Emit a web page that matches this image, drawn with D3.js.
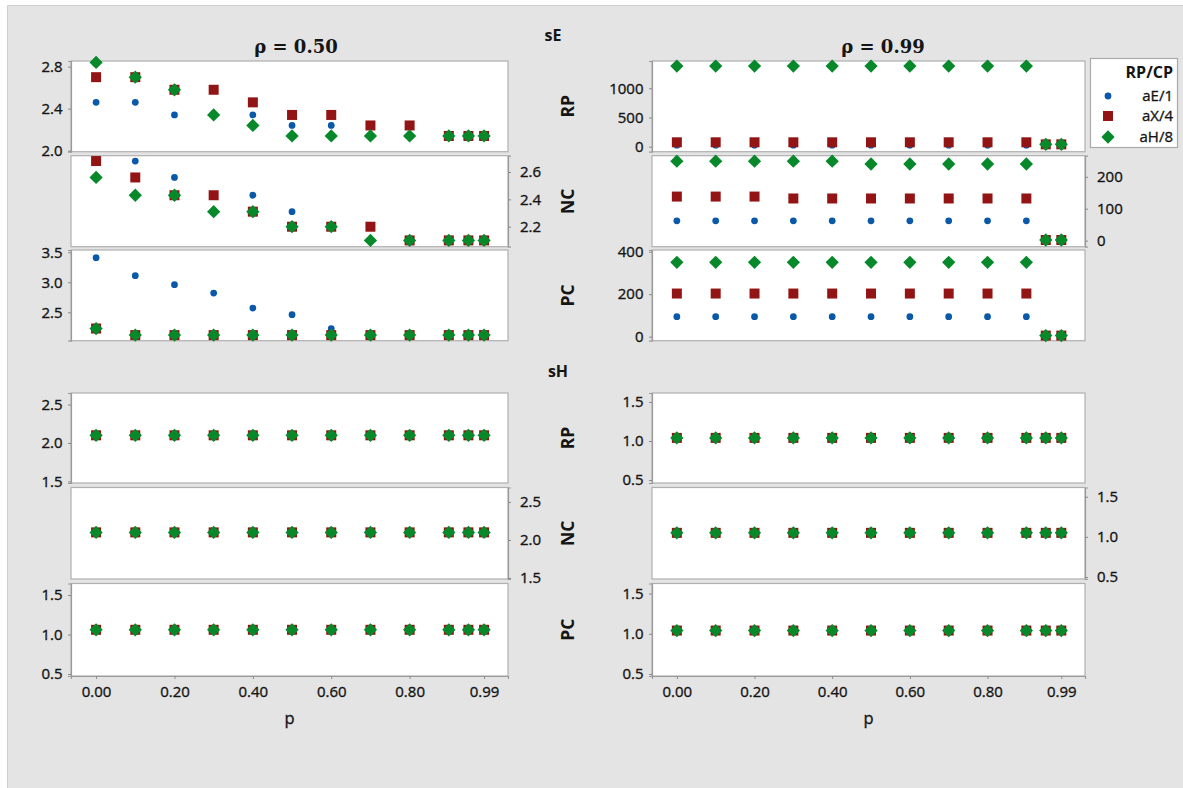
<!DOCTYPE html>
<html>
<head>
<meta charset="utf-8">
<script src="https://cdn.jsdelivr.net/npm/d3@7"></script>
<style>
  html, body { margin: 0; padding: 0; background: #ffffff; }
  svg { display: block; }
  text { font-family: "Open Sans", "Noto Sans", "DejaVu Sans", sans-serif; fill: #151515; }
  .thick { stroke: #151515; stroke-width: 0.35px; }
</style>
</head>
<body>
<svg id="chart" width="1183" height="788"></svg>
<script>
// ---- values ---------------------------------------------------------------
const P = [0, 0.1, 0.2, 0.3, 0.4, 0.5, 0.6, 0.7, 0.8, 0.9, 0.95, 0.99];
const xTickValues = [0, 0.2, 0.4, 0.6, 0.8, 0.99];
const seriesNames = ["aE/1", "aX/4", "aH/8"];
const rowNames = ["RP", "NC", "PC"];
const blockNames = ["sE", "sH"];
const rhoTitles = ["\u03C1 = 0.50", "\u03C1 = 0.99"];

// sE, rho = 0.50
const sE50_RP_aE = [2.46, 2.46, 2.34, 2.34, 2.34, 2.24, 2.24, 2.24, 2.14, 2.14, 2.14, 2.14];
const sE50_RP_aX = [2.70, 2.70, 2.58, 2.58, 2.46, 2.34, 2.34, 2.24, 2.24, 2.14, 2.14, 2.14];
const sE50_RP_aH = [2.84, 2.70, 2.58, 2.34, 2.24, 2.14, 2.14, 2.14, 2.14, 2.14, 2.14, 2.14];
const sE50_NC_aE = [2.68, 2.68, 2.56, 2.43, 2.43, 2.31, 2.20, 2.20, 2.10, 2.10, 2.10, 2.10];
const sE50_NC_aX = [2.68, 2.56, 2.43, 2.43, 2.31, 2.20, 2.20, 2.20, 2.10, 2.10, 2.10, 2.10];
const sE50_NC_aH = [2.56, 2.43, 2.43, 2.31, 2.31, 2.20, 2.20, 2.10, 2.10, 2.10, 2.10, 2.10];
const sE50_PC_aE = [3.41, 3.11, 2.96, 2.82, 2.57, 2.46, 2.23, 2.12, 2.12, 2.12, 2.12, 2.12];
const sE50_PC_aX = [2.23, 2.12, 2.12, 2.12, 2.12, 2.12, 2.12, 2.12, 2.12, 2.12, 2.12, 2.12];
const sE50_PC_aH = [2.23, 2.12, 2.12, 2.12, 2.12, 2.12, 2.12, 2.12, 2.12, 2.12, 2.12, 2.12];

// sE, rho = 0.99
const sE99_RP_aE = [25, 25, 25, 25, 25, 25, 25, 25, 25, 25, 38, 38];
const sE99_RP_aX = [75, 75, 75, 75, 75, 75, 75, 75, 75, 75, 40, 40];
const sE99_RP_aH = [1380, 1380, 1380, 1380, 1380, 1380, 1380, 1380, 1380, 1380, 40, 40];
const sE99_NC_aE = [62, 62, 62, 62, 62, 62, 62, 62, 62, 62, 2, 2];
const sE99_NC_aX = [138, 138, 138, 132, 132, 132, 132, 132, 132, 132, 2, 2];
const sE99_NC_aH = [249, 249, 249, 249, 249, 240, 240, 240, 240, 240, 2, 2];
const sE99_PC_aE = [94, 94, 94, 94, 94, 94, 94, 94, 94, 94, 5, 5];
const sE99_PC_aX = [203, 203, 203, 203, 203, 203, 203, 203, 203, 203, 5, 5];
const sE99_PC_aH = [350, 350, 350, 350, 350, 350, 350, 350, 350, 350, 5, 5];

// sH, rho = 0.50
const sH50_RP_aE = [2.10, 2.10, 2.10, 2.10, 2.10, 2.10, 2.10, 2.10, 2.10, 2.10, 2.10, 2.10];
const sH50_RP_aX = [2.10, 2.10, 2.10, 2.10, 2.10, 2.10, 2.10, 2.10, 2.10, 2.10, 2.10, 2.10];
const sH50_RP_aH = [2.10, 2.10, 2.10, 2.10, 2.10, 2.10, 2.10, 2.10, 2.10, 2.10, 2.10, 2.10];
const sH50_NC_aE = [2.10, 2.10, 2.10, 2.10, 2.10, 2.10, 2.10, 2.10, 2.10, 2.10, 2.10, 2.10];
const sH50_NC_aX = [2.10, 2.10, 2.10, 2.10, 2.10, 2.10, 2.10, 2.10, 2.10, 2.10, 2.10, 2.10];
const sH50_NC_aH = [2.10, 2.10, 2.10, 2.10, 2.10, 2.10, 2.10, 2.10, 2.10, 2.10, 2.10, 2.10];
const sH50_PC_aE = [1.06, 1.06, 1.06, 1.06, 1.06, 1.06, 1.06, 1.06, 1.06, 1.06, 1.06, 1.06];
const sH50_PC_aX = [1.06, 1.06, 1.06, 1.06, 1.06, 1.06, 1.06, 1.06, 1.06, 1.06, 1.06, 1.06];
const sH50_PC_aH = [1.06, 1.06, 1.06, 1.06, 1.06, 1.06, 1.06, 1.06, 1.06, 1.06, 1.06, 1.06];

// sH, rho = 0.99
const sH99_RP_aE = [1.04, 1.04, 1.04, 1.04, 1.04, 1.04, 1.04, 1.04, 1.04, 1.04, 1.04, 1.04];
const sH99_RP_aX = [1.04, 1.04, 1.04, 1.04, 1.04, 1.04, 1.04, 1.04, 1.04, 1.04, 1.04, 1.04];
const sH99_RP_aH = [1.04, 1.04, 1.04, 1.04, 1.04, 1.04, 1.04, 1.04, 1.04, 1.04, 1.04, 1.04];
const sH99_NC_aE = [1.05, 1.05, 1.05, 1.05, 1.05, 1.05, 1.05, 1.05, 1.05, 1.05, 1.05, 1.05];
const sH99_NC_aX = [1.05, 1.05, 1.05, 1.05, 1.05, 1.05, 1.05, 1.05, 1.05, 1.05, 1.05, 1.05];
const sH99_NC_aH = [1.05, 1.05, 1.05, 1.05, 1.05, 1.05, 1.05, 1.05, 1.05, 1.05, 1.05, 1.05];
const sH99_PC_aE = [1.04, 1.04, 1.04, 1.04, 1.04, 1.04, 1.04, 1.04, 1.04, 1.04, 1.04, 1.04];
const sH99_PC_aX = [1.04, 1.04, 1.04, 1.04, 1.04, 1.04, 1.04, 1.04, 1.04, 1.04, 1.04, 1.04];
const sH99_PC_aH = [1.04, 1.04, 1.04, 1.04, 1.04, 1.04, 1.04, 1.04, 1.04, 1.04, 1.04, 1.04];

// y tick values per panel row (RP, NC, PC)
const sE50_ticks = [[2.0, 2.4, 2.8], [2.2, 2.4, 2.6], [2.5, 3.0, 3.5]];
const sE99_ticks = [[0, 500, 1000], [0, 100, 200], [0, 200, 400]];
const sH50_ticks = [[1.5, 2.0, 2.5], [1.5, 2.0, 2.5], [0.5, 1.0, 1.5]];
const sH99_ticks = [[0.5, 1.0, 1.5], [0.5, 1.0, 1.5], [0.5, 1.0, 1.5]];

// ---- layout -----------------------------------------------------------------
const W = 1183, H = 788;
const colors = ["#0a58a8", "#931414", "#07892b"];
const colX = [[71, 508], [652, 1085]];
const blockRows = [
  [[61, 151.7], [155.7, 246.7], [250, 340.7]],
  [[393, 483], [487.5, 579], [583.5, 676]]
];
// visible y extents per panel [block][rho][row]
const yExtents = [
  [
    [[1.99, 2.854], [2.054, 2.719], [2.027, 3.538]],
    [[-86, 1467], [-19, 266], [-19, 408]]
  ],
  [
    [[1.48, 2.65], [1.487, 2.69], [0.475, 1.646]],
    [[0.462, 1.615], [0.475, 1.615], [0.475, 1.625]]
  ]
];
const xDomain = [-0.064, 1.051];

const panelData = [
  [
    [[sE50_RP_aE, sE50_RP_aX, sE50_RP_aH], [sE50_NC_aE, sE50_NC_aX, sE50_NC_aH], [sE50_PC_aE, sE50_PC_aX, sE50_PC_aH]],
    [[sE99_RP_aE, sE99_RP_aX, sE99_RP_aH], [sE99_NC_aE, sE99_NC_aX, sE99_NC_aH], [sE99_PC_aE, sE99_PC_aX, sE99_PC_aH]]
  ],
  [
    [[sH50_RP_aE, sH50_RP_aX, sH50_RP_aH], [sH50_NC_aE, sH50_NC_aX, sH50_NC_aH], [sH50_PC_aE, sH50_PC_aX, sH50_PC_aH]],
    [[sH99_RP_aE, sH99_RP_aX, sH99_RP_aH], [sH99_NC_aE, sH99_NC_aX, sH99_NC_aH], [sH99_PC_aE, sH99_PC_aX, sH99_PC_aH]]
  ]
];
const panelTicks = [[sE50_ticks, sE99_ticks], [sH50_ticks, sH99_ticks]];

const svg = d3.select("#chart");

// page background
svg.append("rect").attr("x", 0).attr("y", 0).attr("width", W).attr("height", H).attr("fill", "#ffffff");
svg.append("rect").attr("x", 7).attr("y", 5).attr("width", W - 7).attr("height", H - 5)
  .attr("fill", "#e4e4e4");
svg.append("path").attr("d", `M7.5,${H} V5.5 H${W}`).attr("fill", "none").attr("stroke", "#cfcfcf");

// marker shapes
const symCircle = d3.symbol().type(d3.symbolCircle).size(36);
const symSquare = d3.symbol().type(d3.symbolSquare).size(100);
const symDiamond = d3.symbol().type(d3.symbolSquare).size(88);
function drawMarker(g, s, cx, cy) {
  if (s === 0) {
    g.append("path").attr("d", symCircle()).attr("transform", `translate(${cx},${cy})`).attr("fill", colors[0]);
  } else if (s === 1) {
    g.append("path").attr("d", symSquare()).attr("transform", `translate(${cx},${cy})`).attr("fill", colors[1]);
  } else {
    g.append("path").attr("d", symDiamond()).attr("transform", `translate(${cx},${cy}) rotate(45)`).attr("fill", colors[2]);
  }
}

const fmt1 = d3.format(".1f");
const fmt0 = d3.format("d");
const fmtX = d3.format(".2f");

function styleAxis(ag) {
  ag.select(".domain").attr("stroke", "#9a9a9a").attr("stroke-width", 1.2);
  ag.selectAll(".tick line").attr("stroke", "#8a8a8a");
  ag.selectAll(".tick text").attr("font-size", 15).attr("fill", "#151515")
    .attr("class", "thick")
    .style("font-family", '"Open Sans", "Noto Sans", sans-serif');
}

blockRows.forEach((rows, b) => {
  colX.forEach((cx, c) => {
    const x = d3.scaleLinear().domain(xDomain).range(cx);
    rows.forEach((ry, r) => {
      const y = d3.scaleLinear().domain(yExtents[b][c][r]).range([ry[1], ry[0]]);
      const g = svg.append("g");
      // panel frame
      g.append("rect").attr("x", cx[0]).attr("y", ry[0])
        .attr("width", cx[1] - cx[0]).attr("height", ry[1] - ry[0])
        .attr("fill", "#ffffff").attr("stroke", "#b0b0b0").attr("stroke-width", 1.2);

      // y axis: left for RP/PC, right for NC
      const ticks = panelTicks[b][c][r];
      const isInt = ticks.some(v => v >= 100);
      const onRight = r === 1;
      const axis = (onRight ? d3.axisRight(y) : d3.axisLeft(y))
        .tickValues(ticks).tickSize(3).tickPadding(onRight ? 9 : 5.5)
        .tickFormat(isInt ? fmt0 : fmt1);
      const ag = g.append("g")
        .attr("transform", `translate(${onRight ? cx[1] : cx[0]},0)`)
        .call(axis);
      styleAxis(ag);

      // markers: blue under red under green
      const mg = g.append("g");
      panelData[b][c][r].forEach((vals, s) => {
        vals.forEach((v, i) => drawMarker(mg, s, x(P[i]), y(v)));
      });

      // x axis on the bottom row of the lower block
      if (b === 1 && r === 2) {
        const xa = d3.axisBottom(x).tickValues(xTickValues).tickSize(3).tickPadding(7.5).tickFormat(fmtX);
        const xg = svg.append("g").attr("transform", `translate(0,${ry[1]})`).call(xa);
        styleAxis(xg);
        svg.append("text").attr("x", (cx[0] + cx[1]) / 2).attr("y", 724)
          .attr("text-anchor", "middle").attr("font-size", 16.5).attr("class", "thick").text("p");
      }
    });
  });

  // row labels between the two columns
  rows.forEach((ry, r) => {
    const cy = (ry[0] + ry[1]) / 2;
    svg.append("text")
      .attr("transform", `translate(573.5,${cy}) rotate(-90)`)
      .attr("text-anchor", "middle")
      .attr("font-size", 17.5).attr("font-weight", "bold")
      .text(rowNames[r]);
  });
});

// block labels
svg.append("text").attr("x", 553).attr("y", 41).attr("text-anchor", "middle")
  .attr("font-size", 16).attr("font-weight", "bold").text(blockNames[0]);
svg.append("text").attr("x", 558).attr("y", 377).attr("text-anchor", "middle")
  .attr("font-size", 16).attr("font-weight", "bold").text(blockNames[1]);

// column titles
[296, 883].forEach((tx, i) => {
  svg.append("text").attr("x", tx).attr("y", 52.5).attr("text-anchor", "middle")
    .style("font-family", '"DejaVu Serif", "Liberation Serif", serif')
    .attr("font-size", 18).attr("font-weight", "bold").text(rhoTitles[i]);
});

// legend
const lg = svg.append("g");
lg.append("rect").attr("x", 1090.5).attr("y", 58.5).attr("width", 87).attr("height", 89)
  .attr("fill", "#ffffff").attr("stroke", "#aaaaaa").attr("stroke-width", 1.2);
lg.append("text").attr("x", 1173).attr("y", 78).attr("text-anchor", "end")
  .attr("font-size", 16).attr("font-weight", "bold").text("RP/CP");
const legendY = [96, 116, 137];
seriesNames.forEach((name, s) => {
  drawMarker(lg, s, 1108, legendY[s]);
  lg.append("text").attr("x", 1173).attr("y", legendY[s] + 5).attr("text-anchor", "end")
    .attr("font-size", 15).attr("class", "thick").text(name);
});
</script>
</body>
</html>
